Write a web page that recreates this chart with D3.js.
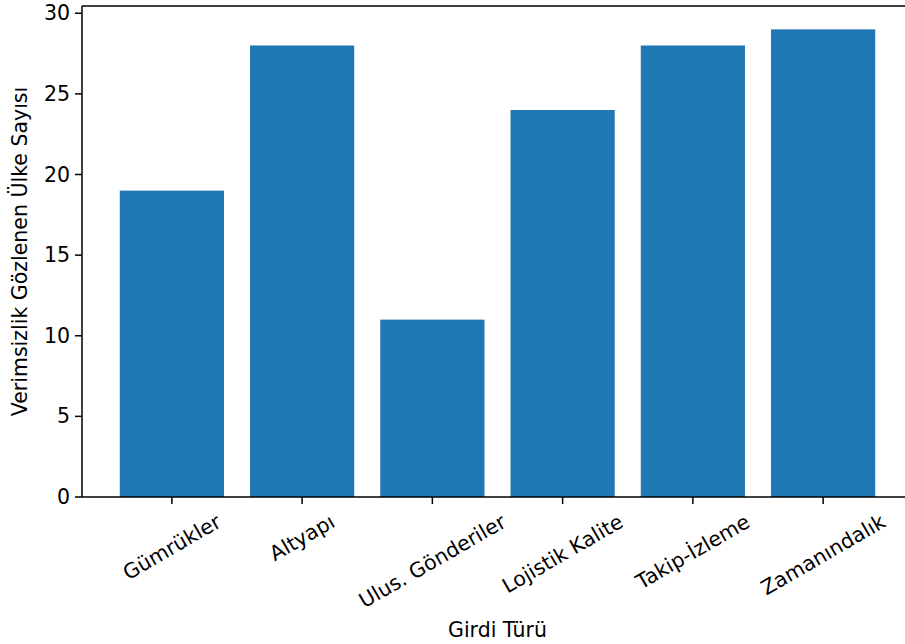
<!DOCTYPE html>
<html><head><meta charset="utf-8">
<script src="https://cdn.jsdelivr.net/npm/d3@7"></script>
<style>body{margin:0;background:#fff}text{font-family:"DejaVu Sans",sans-serif;fill:#000}</style>
</head><body><svg id="c" width="905" height="644"></svg>
<script>
const categories = ["Gümrükler","Altyapı","Ulus. Gönderiler","Lojistik Kalite","Takip-İzleme","Zamanındalık"];
const values = [19,28,11,24,28,29];
const yTicks = [0,5,10,15,20,25,30];
const xLabel = "Girdi Türü";
const yLabel = "Verimsizlik Gözlenen Ülke Sayısı";

const svg = d3.select("#c");
const fs = 20.5;
const L = 82, R = 913, T = 6, B = 497;
const x = d3.scaleLinear().domain([-0.69, 5.69]).range([L, R]);
const y = d3.scaleLinear().domain([0, 30.45]).range([B, T]);
const bw = 0.8;

svg.append("g").selectAll("rect").data(values).join("rect")
  .attr("x", (d,i)=>x(i-bw/2)).attr("width", (d,i)=>x(i+bw/2)-x(i-bw/2))
  .attr("y", d=>y(d)).attr("height", d=>y(0)-y(d)).attr("fill","#1f77b4");

const sp = svg.append("g").attr("stroke","#000").attr("stroke-width",1.5).attr("fill","none");
sp.append("line").attr("x1",L).attr("x2",L).attr("y1",T).attr("y2",B);
sp.append("line").attr("x1",L).attr("x2",R).attr("y1",B).attr("y2",B);
sp.append("line").attr("x1",L).attr("x2",R).attr("y1",T).attr("y2",T);
sp.append("line").attr("x1",R).attr("x2",R).attr("y1",T).attr("y2",B);

const ya = svg.append("g");
yTicks.forEach(t=>{
  ya.append("line").attr("x1",L-7).attr("x2",L).attr("y1",y(t)).attr("y2",y(t)).attr("stroke","#000").attr("stroke-width",1.5);
  ya.append("text").attr("x",L-12).attr("y",y(t)).attr("text-anchor","end").attr("dominant-baseline","central").style("font-size",fs+"px").text(t);
});

const xa = svg.append("g");
categories.forEach((c,i)=>{
  const cx = x(i);
  xa.append("line").attr("x1",cx).attr("x2",cx).attr("y1",B).attr("y2",B+7).attr("stroke","#000").attr("stroke-width",1.5);
  const t = xa.append("text").attr("text-anchor","middle").attr("dominant-baseline","central").style("font-size",fs+"px").text(c);
  const w = t.node().getComputedTextLength();
  const h = fs*1.0;
  const bh = w*0.5 + h*0.866;
  const top = B + 7 + 7;
  const cy = top + bh/2;
  t.attr("transform",`translate(${cx},${cy}) rotate(-30)`);
});

svg.append("text").attr("x",(L+R)/2).attr("y",637).attr("text-anchor","middle").style("font-size",fs+"px").text(xLabel);
svg.append("text").attr("transform",`translate(20,${(T+B)/2}) rotate(-90)`).attr("text-anchor","middle").attr("dominant-baseline","central").style("font-size",fs+"px").text(yLabel);
</script></body></html>
